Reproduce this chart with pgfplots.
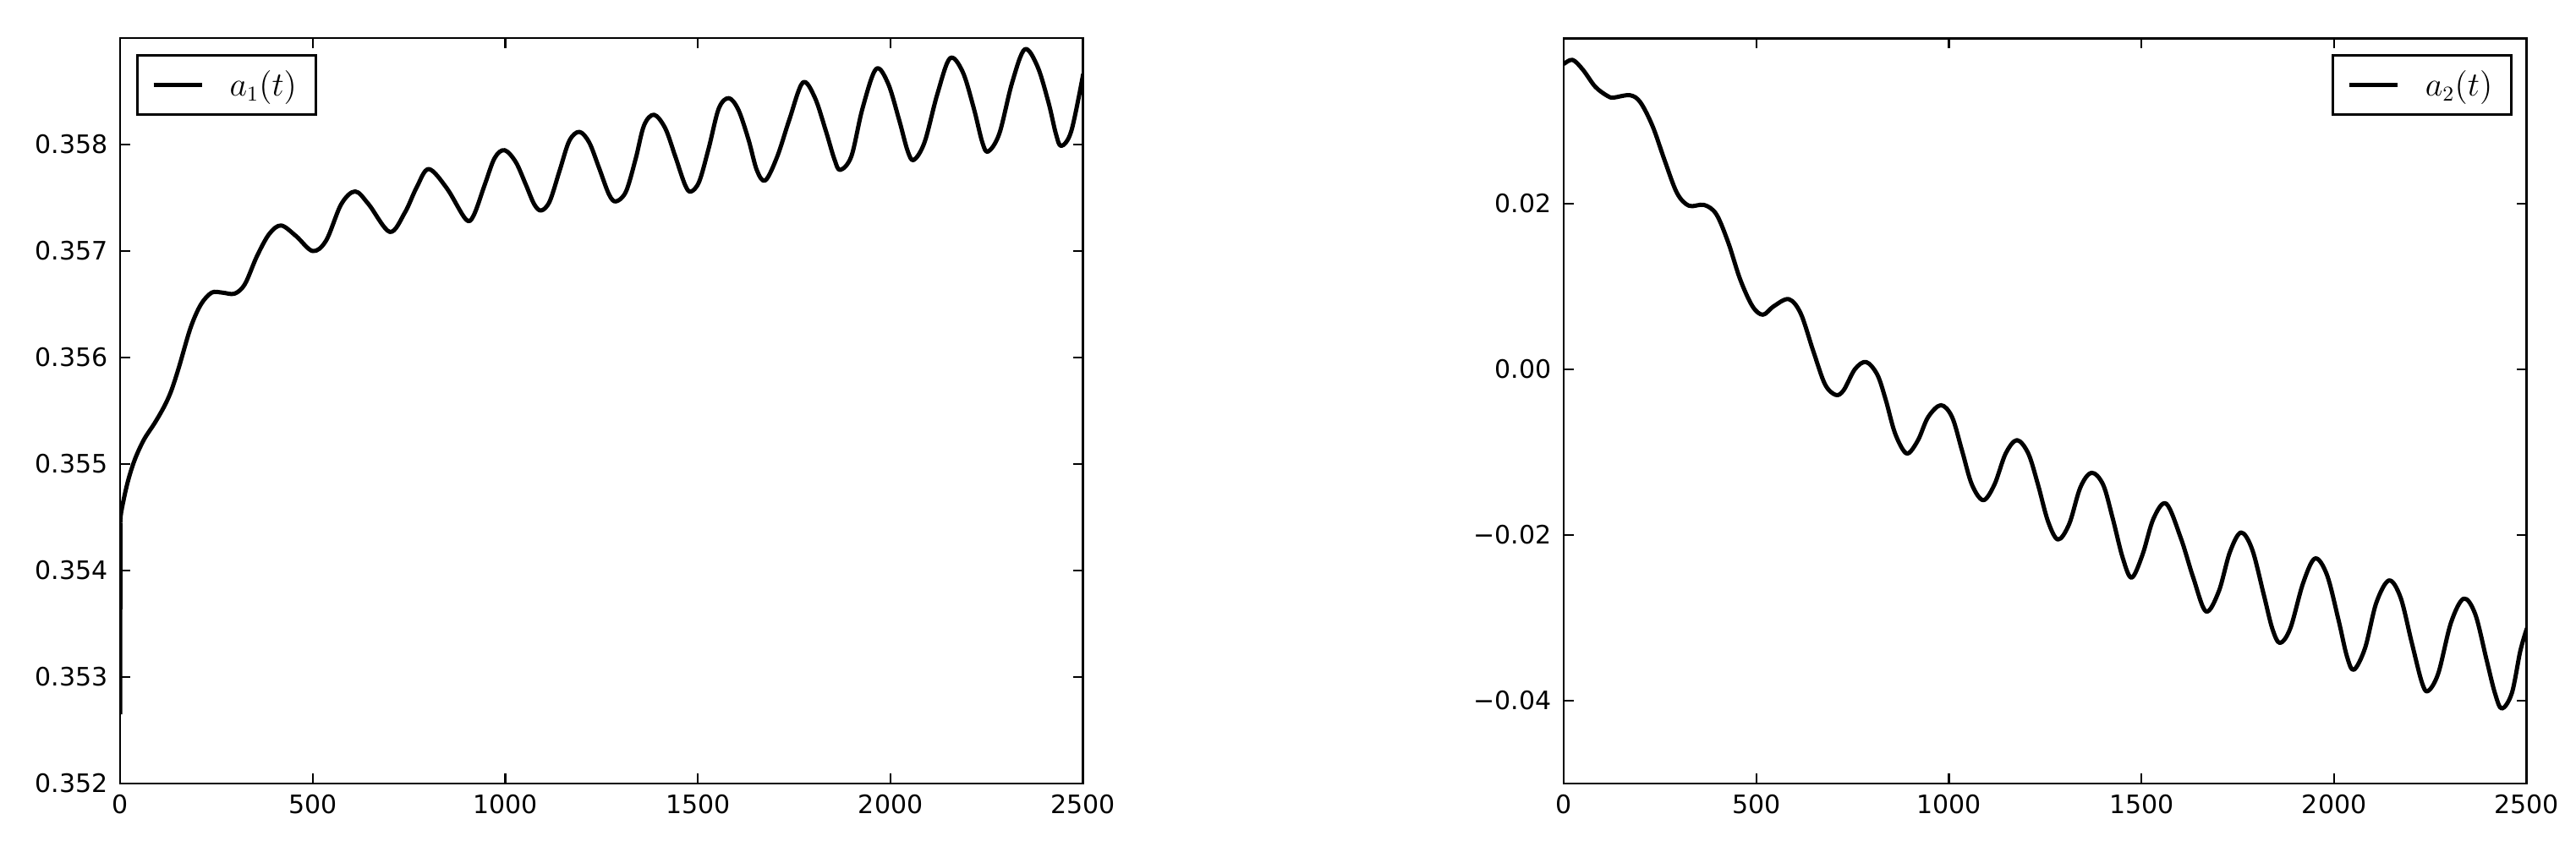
\documentclass[border=0pt]{standalone}
\usepackage{fontspec}
\setmainfont{DejaVu Sans}
\usepackage{pgfplots}
\pgfplotsset{compat=1.18}
\pgfplotsset{
  myax/.style={
    scale only axis, width=410pt, height=317.5pt,
    xmin=0, xmax=2500,
    xtick={0,500,1000,1500,2000,2500},
    xticklabels={0,500,1000,1500,2000,2500},
    scaled x ticks=false, scaled y ticks=false,
    tick align=inside,
    major tick length=4.2pt,
    axis line style={line width=1.05pt},
    every tick/.style={black, line width=0.8pt},
    tick label style={font=\fontsize{10.8}{13}\selectfont},
    xticklabel style={yshift=-1.4pt},
    yticklabel style={xshift=-1.7pt},
    legend style={draw=black, line width=1pt, inner xsep=6pt, inner ysep=4.5pt,
      font=\fontsize{13.5}{15}\selectfont, column sep=9pt},
    legend cell align=left,
    legend image code/.code={\draw[##1] (0pt,0pt) -- (20.5pt,0pt);},
  },
  crv/.style={black, line width=1.8pt, smooth, tension=0.55, line join=round},
}
\pgfplotstableread{
t a
1 0.35445
3 0.35455
19 0.35482
38 0.35504
62 0.35523
89 0.35538
113 0.35553
132 0.35568
152 0.3559
183 0.35628
210 0.3565
238 0.35661
265 0.35661
297 0.3566
324 0.35669
355 0.35695
387 0.35716
418 0.35724
457 0.35714
500 0.357
535 0.3571
574 0.35744
610 0.35756
645 0.35744
700 0.35718
739 0.35736
770 0.35760
801 0.35777
848 0.35759
897 0.3573
917.5 0.357333
946.7 0.357625
972.4 0.357875
998 0.357947
1027 0.357836
1053 0.357625
1075 0.357439
1093 0.357381
1115 0.357466
1141 0.357757
1166 0.358035
1192 0.358119
1217.5 0.358021
1243 0.357783
1269 0.357532
1287 0.357466
1313 0.357558
1338 0.357863
1360 0.35818
1386 0.35828
1415 0.358153
1441 0.357889
1466 0.357625
1481 0.357558
1503 0.357651
1528 0.357968
1554 0.358339
1580 0.358436
1605 0.358325
1631 0.358048
1653 0.357757
1675 0.357664
1706 0.35789
1737 0.358233
1772 0.358582
1803 0.358444
1832 0.358127
1854 0.357863
1869 0.357762
1898 0.357889
1927 0.358339
1962 0.358709
1993 0.358577
2022 0.358233
2044 0.357942
2060 0.357855
2088 0.358021
2121 0.358471
2154 0.35881
2187 0.358683
2216 0.358339
2238 0.358021
2253 0.357934
2282 0.358101
2315 0.358577
2348 0.358894
2381 0.358735
2410 0.358392
2429 0.358101
2443 0.357987
2469 0.358127
2500 0.358665
}\tabA
\pgfplotstableread{
t a
0 0.03686
23 0.03737
50 0.03617
82 0.03412
113 0.03303
129 0.03282
172 0.0331
199 0.03224
231 0.02933
262 0.02523
294 0.0213
325 0.01976
364 0.01986
396 0.01874
427 0.01532
458 0.01087
490 0.00762
517 0.0066
545 0.00762
584 0.00848
615 0.00677
647 0.00232
678 -0.00178
706 -0.00308
726.5 -0.00252
756 0.00003
785 0.00089
814 -0.00064
836 -0.0037
858 -0.00745
880 -0.00966
896 -0.0101
920.5 -0.00847
946 -0.00575
979 -0.00432
1008 -0.00575
1034 -0.00983
1059.5 -0.01391
1089 -0.01579
1118 -0.01391
1147 -0.01017
1176.5 -0.00854
1206 -0.01017
1231 -0.01391
1257 -0.01834
1283 -0.02054
1312 -0.01867
1341 -0.01425
1370 -0.01248
1400 -0.01391
1425 -0.01799
1451 -0.02276
1474 -0.02514
1502 -0.02242
1531 -0.01799
1564 -0.01622
1602 -0.02040
1634 -0.02514
1667 -0.02922
1700 -0.02684
1729 -0.02208
1758 -0.01969
1787 -0.02174
1817 -0.02718
1839 -0.03126
1859 -0.03303
1886 -0.03126
1919 -0.02582
1950 -0.02283
1981 -0.0248
2011 -0.03024
2033 -0.03466
2051 -0.03626
2080 -0.03364
2109 -0.0282
2142 -0.02548
2172 -0.02752
2201 -0.03296
2227 -0.03772
2243 -0.03885
2270 -0.0367
2303 -0.03058
2336 -0.02768
2366 -0.02956
2395 -0.035
2417 -0.03908
2435 -0.04095
2461 -0.03908
2483 -0.03398
2500 -0.03126
}\tabB
\begin{document}
\begin{tikzpicture}
\path[use as bounding box] (-51.12pt,-24.48pt) rectangle (1045.44pt,333.72pt);
\begin{axis}[myax, at={(0pt,0pt)}, anchor=south west,
  ymin=0.352, ymax=0.359,
  ytick={0.352,0.353,0.354,0.355,0.356,0.357,0.358},
  yticklabels={0.352,0.353,0.354,0.355,0.356,0.357,0.358},
  legend style={at={(0.0167,0.9785)}, anchor=north west}]
\addplot[crv] table[x=t, y=a] {\tabA};
\addlegendentry{$a_1(t)$}
\addplot[black, line width=1.8pt, forget plot] coordinates {(0,0.35265) (1,0.35445)};
\end{axis}
\begin{axis}[myax, at={(614.52pt,0pt)}, anchor=south west,
  ymin=-0.05, ymax=0.04,
  ytick={-0.04,-0.02,0,0.02},
  yticklabels={−0.04,−0.02,0.00,0.02},
  legend style={at={(0.985,0.9785)}, anchor=north east}]
\addplot[crv] table[x=t, y=a] {\tabB};
\addlegendentry{$a_2(t)$}
\end{axis}
\end{tikzpicture}
\end{document}
